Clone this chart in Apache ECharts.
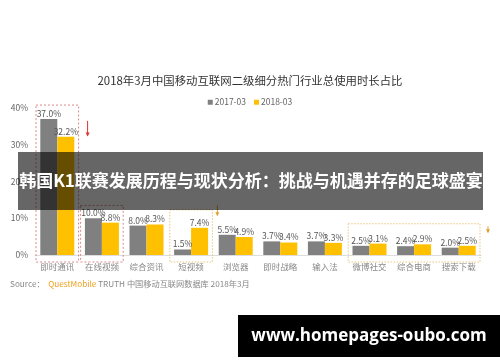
<!DOCTYPE html>
<html><head><meta charset="utf-8">
<script src="https://cdn.jsdelivr.net/npm/echarts@6/dist/echarts.min.js"></script>
<style>html,body{margin:0;padding:0;background:#fff}#c{width:500px;height:362px}</style>
</head><body><div id="c"></div>
<script>
var categories = ['即时通讯','在线视频','综合资讯','短视频','浏览器','即时战略','输入法','微博社交','综合电商','搜索下载'];
var series2017 = [37.0,10.0,8.0,1.5,5.5,3.7,3.7,2.5,2.4,2.0];
var series2018 = [32.2,8.8,8.3,7.4,4.9,3.4,3.3,3.1,2.9,2.5];
var yTicks = [0,10,20,30,40];

var chart = echarts.init(document.getElementById('c'));
var font = '"Noto Sans CJK SC","Microsoft YaHei",sans-serif';
var lbl = {show:true, position:'top', distance:1, fontSize:8.5, color:'#555', fontFamily:font, formatter:function(p){return p.value.toFixed(1)+'%';}};
chart.setOption({
  animation:false,
  title:{text:'2018年3月中国移动互联网二级细分热门行业总使用时长占比', left:'center', top:70,
    textStyle:{fontSize:11.4, fontWeight:'normal', color:'#333', fontFamily:font}},
  legend:{top:93, left:'center', itemWidth:5, itemHeight:5, itemGap:8, icon:'rect',
    textStyle:{fontSize:8.5, color:'#666', fontFamily:font, padding:[0,0,0,-3]}},
  grid:{left:35, right:19, top:108, bottom:107},
  xAxis:{type:'category', data:categories, axisTick:{show:false},
    axisLine:{lineStyle:{color:'#ddd', width:1}},
    axisLabel:{fontSize:8.5, color:'#888', margin:8, fontFamily:font}},
  yAxis:{type:'value', min:0, max:40, interval:10, splitLine:{show:false},
    axisLabel:{formatter:function(v){return v+'%';}, fontSize:8.5, color:'#666', margin:7, fontFamily:font}},
  series:[
    {name:'2017-03', type:'bar', data:series2017, barWidth:17, barGap:'0%', itemStyle:{color:'#808080'}, label:lbl},
    {name:'2018-03', type:'bar', data:series2018, barWidth:17, itemStyle:{color:'#FFC000'}, label:lbl}
  ]
});

function px(ci, v){ return chart.convertToPixel({xAxisIndex:0,yAxisIndex:0},[ci,v]); }
var step = px(1,0)[0]-px(0,0)[0];
function box(c0,c1,vTop,color,dash){
  var a = px(c0,vTop), b = px(c1,0);
  var x0 = a[0]-step/2+1, x1 = b[0]+step/2-1;
  return {type:'rect', shape:{x:x0, y:a[1], width:x1-x0, height:b[1]+7-a[1]},
    style:{fill:'none', stroke:color, lineWidth:1, lineDash:dash}, z:50};
}
function arrow(x,y0,y1,color){
  var up = y1<y0;
  return {type:'group', z:50, children:[
    {type:'line', shape:{x1:x,y1:y0,x2:x,y2:y1}, style:{stroke:color,lineWidth:1}},
    {type:'polygon', shape:{points:up?[[x-2,y1+3],[x+2,y1+3],[x,y1-1]]:[[x-2,y1-3],[x+2,y1-3],[x,y1+1]]}, style:{fill:color}}
  ]};
}
var bIM = box(0,0,40.8,'#d98a8a',[2,2]);
var bV = box(1,1,13.5,'#d98a8a',[2,2]);
var bS = box(3,3,12.3,'#e8c77a',[1.5,1.5]);
var bW = box(7,9,8.5,'#e8c77a',[1.5,1.5]);
var xS = px(3,0)[0]+step/2+4;
var xW = px(9,0)[0]+step/2+7;
var xIM = px(0,0)[0]+step/2+8;
var gr = [bIM,bV,bS,bW,
  arrow(xIM, px(0,36.5)[1], px(0,32.5)[1], '#e03030'),
  arrow(xS, px(0,13.5)[1], px(0,10.8)[1], '#e0a030'),
  arrow(xW, px(0,7.8)[1], px(0,6.2)[1], '#e0a030'),
  {type:'text', left:10, top:280, z:60, style:{rich:{a:{fill:'#888',fontSize:8.2,fontFamily:font},b:{fill:'#f0a020',fontSize:8.2,fontFamily:font}},
    text:'{a|Source：  }{b|QuestMobile}{a| TRUTH 中国移动互联网数据库 2018年3月}'}},
  {type:'rect', shape:{x:18,y:152,width:465,height:58}, style:{fill:'rgba(0,0,0,0.6)'}, z:100},
  {type:'text', x:251, y:181, z:101, style:{text:'韩国K1联赛发展历程与现状分析：挑战与机遇并存的足球盛宴', fill:'#fff', fontSize:17, fontWeight:'bold', fontFamily:font, align:'center', verticalAlign:'middle'}},
  {type:'rect', shape:{x:238,y:315,width:262,height:42}, style:{fill:'#000'}, z:100},
  {type:'text', x:369, y:336, z:101, style:{text:'www.homepages-oubo.com', fill:'#fff', fontSize:17, fontWeight:'bold', fontFamily:'"Open Sans","DejaVu Sans",sans-serif', align:'center', verticalAlign:'middle'}}
];
chart.setOption({graphic:gr});
</script></body></html>
